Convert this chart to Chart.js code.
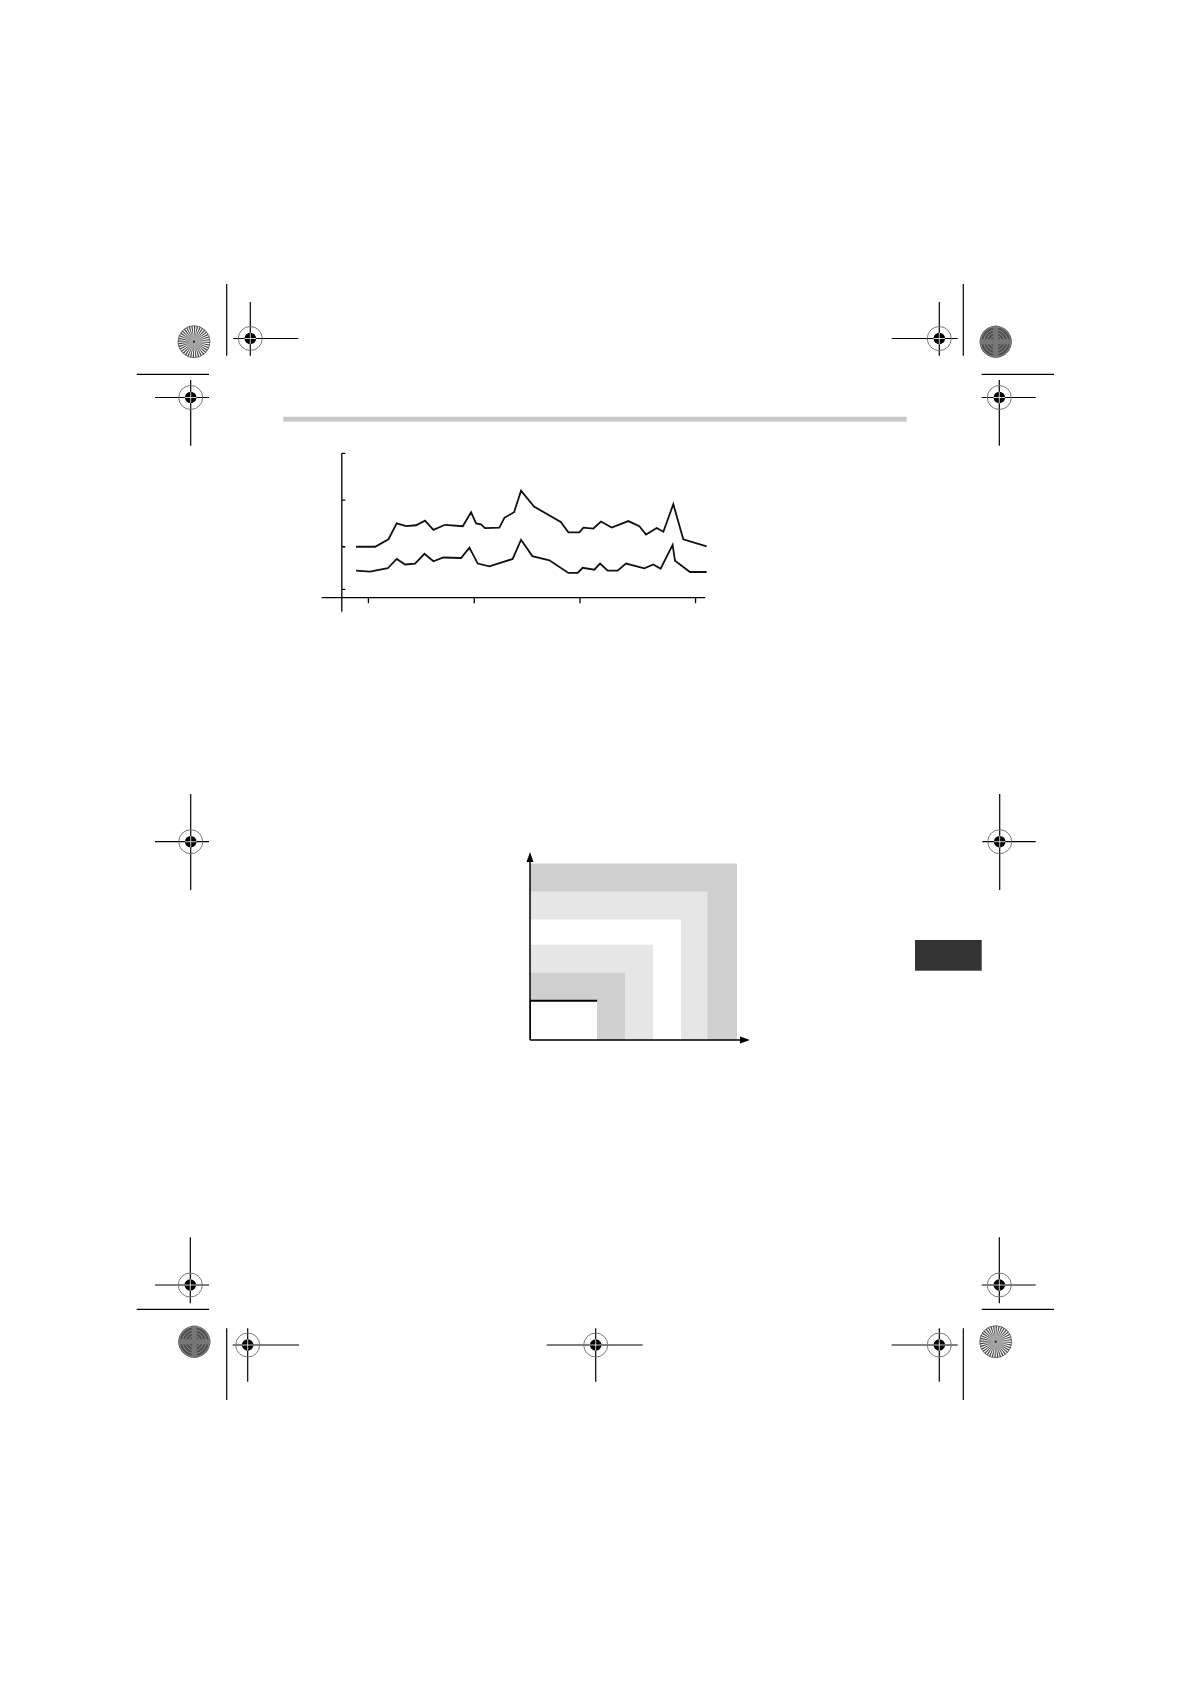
<!DOCTYPE html>
<html>
<head>
<meta charset="utf-8">
<title>Chart</title>
<script src="https://cdn.jsdelivr.net/npm/chart.js@4.4.0/dist/chart.umd.min.js"></script>
<style>
    html, body { margin: 0; padding: 0; background: #fff; }
    .page { position: relative; width: 1190px; height: 1684px; overflow: hidden; }
    #marks { position: absolute; left: 0; top: 0; }
    #lineChart { position: absolute; left: 300px; top: 440px; }
    #areaChart { position: absolute; left: 510px; top: 835px; }
</style>
</head>
<body>
<div class="page">
    <canvas id="marks" width="1190" height="1684"></canvas>
    <canvas id="lineChart" width="420" height="180"></canvas>
    <canvas id="areaChart" width="260" height="225"></canvas>
</div>
<script>
// Line chart data (x in months from the first tick)
const upperX = [-1.4, 0.76, 2.27, 3.21, 4.27, 5.4, 6.42, 7.37, 8.69, 10.7, 11.64, 12.21, 12.77, 13.23, 14.85, 15.42, 16.52, 17.31, 18.78, 21.81, 22.68, 23.92, 24.38, 25.51, 26.38, 27.59, 29.48, 30.73, 31.48, 32.69, 33.45, 34.58, 35.71, 38.36];
const upperY = [1.0, 1.0, 1.16, 1.5, 1.44, 1.46, 1.56, 1.36, 1.47, 1.44, 1.74, 1.5, 1.48, 1.4, 1.41, 1.62, 1.74, 2.2, 1.86, 1.53, 1.31, 1.31, 1.41, 1.39, 1.54, 1.41, 1.55, 1.44, 1.26, 1.4, 1.32, 1.91, 1.16, 1.01];
const lowerX = [-1.4, 0.19, 2.19, 3.21, 4.16, 5.29, 6.35, 7.37, 8.5, 10.51, 11.45, 12.4, 13.72, 16.36, 17.31, 18.59, 20.52, 22.68, 23.73, 24.3, 25.62, 26.27, 27.14, 28.27, 29.21, 31.29, 32.31, 33.14, 34.5, 34.77, 36.47, 38.36];
const lowerY = [0.49, 0.47, 0.54, 0.74, 0.62, 0.64, 0.85, 0.69, 0.77, 0.76, 0.98, 0.64, 0.58, 0.74, 1.15, 0.8, 0.71, 0.44, 0.44, 0.55, 0.51, 0.64, 0.49, 0.49, 0.64, 0.54, 0.62, 0.53, 1.04, 0.7, 0.46, 0.46];
const xTicks = [0, 12, 24, 37.1];
const yTicks = [3, 2, 1, 0.09];

// Nested rectangles diagram (smallest first)
const rectWidths = [2.4, 3.4, 4.4, 5.4, 6.35, 7.4];
const rectHeights = [1.4, 2.4, 3.4, 4.3, 5.3, 6.3];

const rectFills = ['#ffffff', '#cfcfcf', '#e6e6e6', '#ffffff', '#e6e6e6', '#cfcfcf'];

// ---------- page marks ----------
function drawMarks() {
    const c = document.getElementById('marks').getContext('2d');

    // grey header rule
    c.fillStyle = '#c8c8c8';
    c.fillRect(283.3, 416.7, 623.4, 5);

    // dark tab on the right
    c.fillStyle = '#333333';
    c.fillRect(915, 940, 66.7, 30.7);

    c.strokeStyle = '#000';
    c.lineWidth = 1.2;
    function line(x1, y1, x2, y2) {
        c.beginPath();
        c.moveTo(x1, y1);
        c.lineTo(x2, y2);
        c.stroke();
    }

    function crosshair(cx, cy, hx1, hx2, vy1, vy2) {
        c.strokeStyle = '#000';
        c.lineWidth = 1.2;
        line(hx1, cy, hx2, cy);
        line(cx, vy1, cx, vy2);
        c.strokeStyle = '#777';
        c.lineWidth = 1;
        c.beginPath();
        c.arc(cx, cy, 12, 0, Math.PI * 2);
        c.stroke();
        c.fillStyle = '#000';
        c.beginPath();
        c.arc(cx, cy, 5.8, 0, Math.PI * 2);
        c.fill();
        c.strokeStyle = '#fff';
        c.lineWidth = 0.8;
        line(cx - 5.8, cy, cx + 5.8, cy);
        line(cx, cy - 5.8, cx, cy + 5.8);
    }

    function starTarget(cx, cy, dark) {
        const r = 16;
        if (dark) {
            c.fillStyle = '#4f4f4f';
            c.beginPath();
            c.arc(cx, cy, r, 0, Math.PI * 2);
            c.fill();
            c.strokeStyle = '#8a8a8a';
            c.lineWidth = 1;
            for (let k = 3; k < r; k += 3) {
                c.beginPath();
                c.arc(cx, cy, k, 0, Math.PI * 2);
                c.stroke();
            }
            c.fillStyle = '#777';
            c.fillRect(cx - r, cy - 2.5, r * 2, 5);
            c.fillRect(cx - 2.5, cy - r, 5, r * 2);
        } else {
            c.fillStyle = '#fff';
            c.beginPath();
            c.arc(cx, cy, r, 0, Math.PI * 2);
            c.fill();
            const n = 72;
            c.fillStyle = '#444';
            for (let i = 0; i < n; i += 2) {
                const a1 = (i / n) * Math.PI * 2;
                const a2 = ((i + 1) / n) * Math.PI * 2;
                c.beginPath();
                c.moveTo(cx, cy);
                c.arc(cx, cy, r, a1, a2);
                c.closePath();
                c.fill();
            }
            c.fillStyle = 'rgba(160,160,160,0.6)';
            c.beginPath();
            c.arc(cx, cy, 9, 0, Math.PI * 2);
            c.fill();
            c.fillStyle = '#222';
            c.fillRect(cx - 1, cy - 1, 2, 2);
            c.strokeStyle = '#555';
            c.lineWidth = 0.8;
            c.beginPath();
            c.arc(cx, cy, r, 0, Math.PI * 2);
            c.stroke();
        }
    }

    // trim lines
    c.strokeStyle = '#000';
    c.lineWidth = 1.2;
    line(226.7, 284, 226.7, 355.7);
    line(963.3, 284, 963.3, 355.7);
    line(136.7, 374.3, 209, 374.3);
    line(981.7, 374.3, 1054, 374.3);
    line(136.7, 1309.3, 209, 1309.3);
    line(981.7, 1309.3, 1054, 1309.3);
    line(226.7, 1328.3, 226.7, 1400);
    line(963.3, 1328.3, 963.3, 1400);

    crosshair(250.3, 338.5, 233.3, 298.3, 302, 355.7);
    crosshair(190.7, 397.5, 155, 209, 380, 445.7);
    crosshair(939.3, 338.5, 891.7, 957.7, 302, 355.7);
    crosshair(999.3, 397.5, 981.7, 1035.7, 380, 445.7);
    crosshair(190.7, 841.7, 155, 209, 794, 890);
    crosshair(999.7, 841.7, 982.3, 1035.7, 794, 890);
    crosshair(190.3, 1285, 155, 209, 1237.3, 1303.3);
    crosshair(247.7, 1345, 232.7, 299, 1328.3, 1381.7);
    crosshair(595.7, 1345, 546.7, 642.7, 1328.3, 1381.7);
    crosshair(999.3, 1285, 981.7, 1035.7, 1237.3, 1303.3);
    crosshair(939.3, 1345, 891.7, 957.7, 1328.3, 1381.7);

    starTarget(194, 341.7, false);
    starTarget(995.7, 341.7, true);
    starTarget(194.3, 1341.7, true);
    starTarget(995.7, 1341.7, false);
}
drawMarks();

// ---------- line chart ----------
const lineAxes = {
    id: 'lineAxes',
    afterDraw(chart) {
        const c = chart.ctx;
        const xs = chart.scales.x;
        const ys = chart.scales.y;
        const area = chart.chartArea;
        const yAxisX = xs.getPixelForValue(-3.02);
        const base = ys.getPixelForValue(ys.min);
        c.save();
        c.strokeStyle = '#000';
        c.lineWidth = 1.3;
        c.beginPath();
        c.moveTo(area.left, base);
        c.lineTo(xs.getPixelForValue(38.2), base);
        c.moveTo(yAxisX, ys.getPixelForValue(ys.max));
        c.lineTo(yAxisX, base + 14);
        yTicks.forEach(v => {
            const py = ys.getPixelForValue(v);
            c.moveTo(yAxisX, py);
            c.lineTo(yAxisX + 3.5, py);
        });
        xTicks.forEach(v => {
            const px = xs.getPixelForValue(v);
            c.moveTo(px, base);
            c.lineTo(px, base + 5.5);
        });
        c.stroke();
        c.restore();
    }
};

new Chart(document.getElementById('lineChart').getContext('2d'), {
    type: 'line',
    data: {
        datasets: [{
            data: upperX.map((x, i) => ({ x: x, y: upperY[i] })),
            borderColor: '#111',
            borderWidth: 1.8,
            pointRadius: 0,
            tension: 0,
            fill: false
        }, {
            data: lowerX.map((x, i) => ({ x: x, y: lowerY[i] })),
            borderColor: '#111',
            borderWidth: 1.8,
            pointRadius: 0,
            tension: 0,
            fill: false
        }]
    },
    options: {
        responsive: false,
        animation: false,
        layout: { padding: { left: 21.7, right: 13, top: 13.3, bottom: 22.3 } },
        plugins: { legend: { display: false }, tooltip: { enabled: false } },
        scales: {
            x: { type: 'linear', min: -5.3, max: 38.4, display: false },
            y: { type: 'linear', min: -0.09, max: 3, display: false }
        }
    },
    plugins: [lineAxes]
});

// ---------- nested rectangles ----------
const arrowAxes = {
    id: 'arrowAxes',
    afterDraw(chart) {
        const c = chart.ctx;
        const xs = chart.scales.x;
        const ys = chart.scales.y;
        const x0 = xs.getPixelForValue(0);
        const y0 = ys.getPixelForValue(0);
        const xEnd = xs.getPixelForValue(xs.max);
        const yEnd = ys.getPixelForValue(ys.max);
        c.save();
        c.strokeStyle = '#000';
        c.fillStyle = '#000';
        c.lineWidth = 1.5;
        c.beginPath();
        c.moveTo(x0, y0);
        c.lineTo(xEnd - 6, y0);
        c.moveTo(x0, y0);
        c.lineTo(x0, yEnd + 6);
        c.stroke();
        c.beginPath();
        c.moveTo(xEnd, y0);
        c.lineTo(xEnd - 10, y0 - 3.5);
        c.lineTo(xEnd - 10, y0 + 3.5);
        c.closePath();
        c.fill();
        c.beginPath();
        c.moveTo(x0, yEnd);
        c.lineTo(x0 - 3.5, yEnd + 10);
        c.lineTo(x0 + 3.5, yEnd + 10);
        c.closePath();
        c.fill();
        c.restore();
    }
};

new Chart(document.getElementById('areaChart').getContext('2d'), {
    type: 'line',
    data: {
        datasets: rectWidths.map((w, i) => ({
            data: [{ x: 0, y: 0 }, { x: 0, y: rectHeights[i] }, { x: w, y: rectHeights[i] }, { x: w, y: 0 }],
            backgroundColor: rectFills[i],
            borderColor: i === 0 ? '#000' : 'rgba(0,0,0,0)',
            borderWidth: i === 0 ? 2 : 0,
            // only the left and top edges of the inner box are outlined
            segment: {
                borderColor: ctx => ctx.p1DataIndex === 3 ? 'rgba(0,0,0,0)' : undefined
            },
            pointRadius: 0,
            tension: 0,
            fill: 'origin'
        }))
    },
    options: {
        responsive: false,
        animation: false,
        layout: { padding: { left: 20, right: 20, top: 17, bottom: 20 } },
        plugins: { legend: { display: false }, tooltip: { enabled: false } },
        scales: {
            x: { type: 'linear', min: 0, max: 7.86, display: false },
            y: { type: 'linear', min: 0, max: 6.71, display: false }
        }
    },
    plugins: [arrowAxes]
});
</script>
</body>
</html>
